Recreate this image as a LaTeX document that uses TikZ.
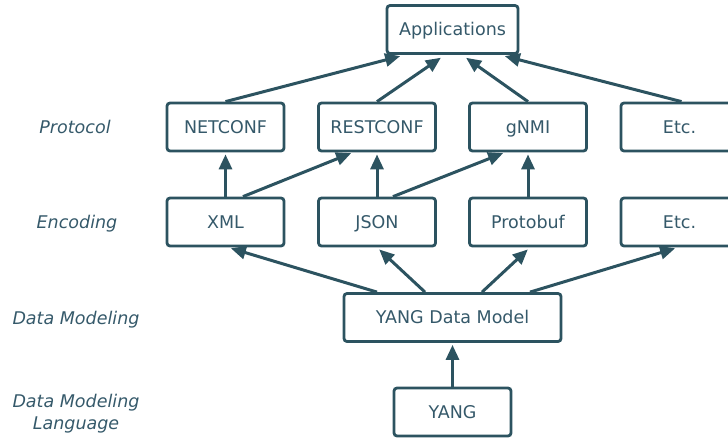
\documentclass[tikz,border=0pt]{standalone}
\usepackage{fontspec}
\setmainfont{DejaVu Sans}
\usetikzlibrary{arrows.meta,calc}
\definecolor{ink}{HTML}{2C5360}
\definecolor{inktext}{HTML}{35596A}
\tikzset{
  box/.style={draw=ink, line width=2.8pt, rounded corners=3pt, fill=white,
    minimum width=117pt, minimum height=48pt, inner sep=0pt,
    text height=12.8pt, text depth=0pt,
    text=inktext, font=\fontsize{17.5}{20}\selectfont},
  layer/.style={text=inktext, font=\fontsize{17.5}{22}\itshape, align=center},
  arr/.style={draw=ink, line width=3pt, -{Triangle[length=15pt,width=13pt]}},
}
\begin{document}
\begin{tikzpicture}[x=1pt,y=-1pt]
\useasboundingbox (0,0) rectangle (728,437);
\clip (0,0) rectangle (728,437);

% layer captions
\node[layer, text height=12.8pt, text depth=0pt] (lp) at (75,127) {Protocol};
\node[layer, text height=12.8pt, text depth=0pt] (le) at (77,222) {Encoding};
\node[layer, text height=12.8pt, text depth=0pt] (ld) at (76,318) {Data Modeling};
\node[layer] (ll) at (76,414) {Data Modeling\\Language};

% boxes
\node[box] (app) at (452.5,29.5) [minimum width=131pt] {Applications};
\node[box] (netconf) at (225.5,127) {NETCONF};
\node[box] (restconf) at (377,127) {RESTCONF};
\node[box] (gnmi) at (528,127) {gNMI};
\node[box] (etcp) at (679.5,127) {Etc.};
\node[box] (xml) at (225.5,222) {XML};
\node[box] (json) at (377,222) {JSON};
\node[box] (proto) at (528,222) {Protobuf};
\node[box] (etce) at (679.5,222) {Etc.};
\node[box] (ydm) at (452.5,317.5) [minimum width=217pt] {YANG Data Model};
\node[box] (yang) at (452.5,412) {YANG};

% protocols to applications
\draw[arr, shorten >=5pt] (netconf.north) -- ([xshift=-47.5pt]app.south);
\draw[arr, shorten >=5pt] (restconf.north) -- ([xshift=-7.5pt]app.south);
\draw[arr, shorten >=5pt] (gnmi.north) -- ([xshift=9.5pt]app.south);
\draw[arr, shorten >=5pt] ([xshift=2pt]etcp.north) -- ([xshift=47.5pt]app.south);

% encodings to protocols
\draw[arr, shorten >=2pt] (xml.north) -- (netconf.south);
\draw[arr, shorten >=2pt] ([xshift=17.5pt]xml.north) -- ([xshift=-24pt]restconf.south);
\draw[arr, shorten >=2pt] (json.north) -- (restconf.south);
\draw[arr, shorten >=2pt] ([xshift=16pt]json.north) -- ([xshift=-23pt]gnmi.south);
\draw[arr, shorten >=2pt] (proto.north) -- (gnmi.south);

% data model to encodings
\draw[arr, shorten >=3pt] ([xshift=-75.5pt]ydm.north) -- ([xshift=2.5pt]xml.south);
\draw[arr, shorten >=3pt] ([xshift=-27.5pt]ydm.north) -- (json.south);
\draw[arr, shorten >=3pt] ([xshift=29.5pt]ydm.north) -- ([xshift=2pt]proto.south);
\draw[arr, shorten >=3pt] ([xshift=77.5pt]ydm.north) -- ([xshift=-1.5pt]etce.south);

% language to data model
\draw[arr, shorten >=2pt] (yang.north) -- (ydm.south);
\end{tikzpicture}
\end{document}
